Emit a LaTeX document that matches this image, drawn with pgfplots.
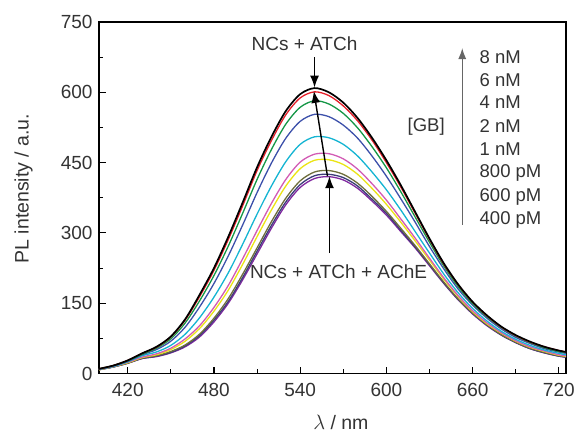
\documentclass[border=0pt]{standalone}
\usepackage{pgfplots}
\pgfplotsset{compat=1.18}
\usetikzlibrary{arrows.meta}
\usepackage{fontspec}
\setmainfont{Liberation Sans}
\definecolor{cred}{RGB}{230,30,40}
\definecolor{cgreen}{RGB}{20,150,70}
\definecolor{cblue}{RGB}{60,80,170}
\definecolor{ccyan}{RGB}{20,180,210}
\definecolor{cmag}{RGB}{210,90,180}
\definecolor{cyel}{RGB}{235,228,20}
\definecolor{colive}{RGB}{110,110,60}
\definecolor{cnavy}{RGB}{60,60,120}
\definecolor{cpurp}{RGB}{128,40,160}
\tikzset{lab/.style={font=\fontsize{18.5}{22}\selectfont, text=black!80, anchor=west, inner sep=0pt},
  arr/.style={-{Latex[length=12pt,width=9pt]}, line width=1.4pt}}
\begin{document}
\begin{tikzpicture}
\begin{axis}[
  scale only axis, width=467pt, height=351.5pt,
  at={(0,0)}, anchor=south west,
  xmin=400, xmax=725, ymin=0, ymax=750,
  xtick={420,480,...,720}, ytick={0,150,...,750},
  minor x tick num=1, minor y tick num=1,
  xtick pos=bottom, ytick pos=left, tick align=inside,
  major tick length=7pt, minor tick length=4.5pt,
  axis line style={line width=1.3pt},
  every tick/.style={line width=1.1pt, black},
  every minor tick/.style={line width=1.1pt, black},
  /pgf/number format/assume math mode=true,
  tick label style={font=\fontsize{19}{22}\selectfont, text=black!80},
  xticklabel style={yshift=-6pt},
  yticklabel style={xshift=-3pt},
  xlabel={$\lambda$ / nm}, ylabel={PL intensity / a.u.},
  label style={font=\fontsize{19.5}{23}\selectfont, text=black!80},
  xlabel style={at={(axis description cs:0.518,-0.14)}, anchor=center},
  ylabel style={at={(axis description cs:-0.1617,0.526)}, anchor=center},
  clip=false,
  every axis plot/.append style={line width=1.3pt, smooth, tension=0.5, no marks},
]
% purple (NCs + ATCh + AChE)
\addplot[cpurp] coordinates {(400,8)(410,14)(420,22)(430,32)(440,36)(450,44)(460,57)(470,78)(480,110)(490,150)(500,200)(510,255)(520,310)(530,360)(540,397)(550,416)(560,420)(570,413)(580,395)(590,368)(600,338)(610,303)(620,268)(630,230)(640,192)(650,157)(660,127)(670,102)(680,82)(690,66)(700,53)(710,44)(720,37)(725,35)};
% navy 400 pM
\addplot[cnavy] coordinates {(400,8)(410,14)(420,22)(430,32)(440,37)(450,45)(460,59)(470,81)(480,114)(490,154)(500,205)(510,261)(520,316)(530,366)(540,403)(550,422)(560,425)(570,418)(580,400)(590,372)(600,342)(610,306)(620,270)(630,232)(640,193)(650,158)(660,128)(670,103)(680,82)(690,66)(700,53)(710,44)(720,37)(725,35)};
% olive 600 pM
\addplot[colive] coordinates {(400,8)(410,14)(420,22)(430,33)(440,38)(450,47)(460,61)(470,84)(480,118)(490,160)(500,212)(510,268)(520,324)(530,374)(540,411)(550,430)(560,433)(570,425)(580,406)(590,378)(600,346)(610,310)(620,273)(630,234)(640,195)(650,159)(660,129)(670,104)(680,83)(690,67)(700,54)(710,45)(720,38)(725,36)};
% yellow 800 pM
\addplot[cyel] coordinates {(400,8)(410,15)(420,23)(430,34)(440,40)(450,51)(460,69)(470,96)(480,133)(490,178)(500,233)(510,292)(520,349)(530,400)(540,437)(550,455)(560,456)(570,446)(580,425)(590,395)(600,361)(610,323)(620,283)(630,242)(640,201)(650,164)(660,132)(670,106)(680,86)(690,69)(700,56)(710,47)(720,39)(725,37)};
% magenta 1 nM
\addplot[cmag] coordinates {(400,9)(410,15)(420,24)(430,35)(440,42)(450,54)(460,74)(470,102)(480,141)(490,188)(500,245)(510,305)(520,363)(530,414)(540,451)(550,468)(560,469)(570,458)(580,436)(590,405)(600,370)(610,330)(620,289)(630,246)(640,204)(650,166)(660,134)(670,108)(680,87)(690,70)(700,57)(710,48)(720,40)(725,38)};
% cyan 2 nM
\addplot[ccyan] coordinates {(400,9)(410,15)(420,25)(430,38)(440,46)(450,60)(460,84)(470,119)(480,163)(490,215)(500,276)(510,340)(520,400)(530,452)(540,489)(550,505)(560,503)(570,489)(580,464)(590,430)(600,392)(610,349)(620,303)(630,257)(640,212)(650,172)(660,139)(670,112)(680,90)(690,73)(700,60)(710,50)(720,43)(725,40)};
% blue 4 nM
\addplot[cblue] coordinates {(400,9)(410,16)(420,26)(430,40)(440,51)(450,69)(460,99)(470,142)(480,192)(490,251)(500,317)(510,386)(520,449)(530,502)(540,538)(550,553)(560,548)(570,530)(580,502)(590,464)(600,421)(610,373)(620,323)(630,271)(640,223)(650,180)(660,146)(670,118)(680,95)(690,77)(700,64)(710,53)(720,46)(725,43)};
% green 6 nM
\addplot[cgreen] coordinates {(400,10)(410,17)(420,27)(430,41)(440,54)(450,74)(460,108)(470,155)(480,209)(490,272)(500,342)(510,414)(520,478)(530,532)(540,568)(550,582)(560,575)(570,555)(580,524)(590,484)(600,439)(610,388)(620,334)(630,280)(640,229)(650,185)(660,149)(670,121)(680,98)(690,80)(700,66)(710,55)(720,47)(725,45)};
% red 8 nM
\addplot[cred] coordinates {(400,10)(410,17)(420,28)(430,43)(440,56)(450,78)(460,114)(470,164)(480,220)(490,286)(500,358)(510,433)(520,497)(530,552)(540,588)(550,601)(560,593)(570,571)(580,539)(590,498)(600,450)(610,398)(620,342)(630,286)(640,233)(650,189)(660,152)(670,123)(680,99)(690,81)(700,67)(710,57)(720,49)(725,46)};
% black NCs + ATCh
\addplot[black, line width=1.7pt] coordinates {(400,10)(410,17)(420,28)(430,43)(440,57)(450,79)(460,116)(470,168)(480,225)(490,292)(500,365)(510,440)(520,505)(530,560)(540,596)(550,609)(560,600)(570,578)(580,545)(590,503)(600,455)(610,402)(620,345)(630,288)(640,235)(650,190)(660,153)(670,124)(680,100)(690,82)(700,68)(710,57)(720,49)(725,46)};
% annotations
\draw[arr] (axis cs:550,675) -- (axis cs:550,610);
\node[font=\fontsize{19}{23}\selectfont, text=black!80] at (axis cs:543,703) {NCs + ATCh};
\draw[arr] (axis cs:560.4,257) -- (axis cs:560.4,421);
\draw[arr] (axis cs:559,421) -- (axis cs:549.5,603);
\node[font=\fontsize{19}{23}\selectfont, text=black!80] at (axis cs:566.7,216.6) {NCs + ATCh + AChE};
\draw[-{Latex[length=11pt,width=8pt]}, line width=1.3pt, black!60] (axis cs:652.8,317) -- (axis cs:652.8,694.5);
\node[font=\fontsize{18.5}{22}\selectfont, text=black!80] at (axis cs:627.7,526.5) {[GB]};
\node[lab] at (axis cs:664.8,676) {8 nM};
\node[lab] at (axis cs:664.8,626) {6 nM};
\node[lab] at (axis cs:664.8,578) {4 nM};
\node[lab] at (axis cs:664.8,528) {2 nM};
\node[lab] at (axis cs:664.8,478) {1 nM};
\node[lab] at (axis cs:664.8,427) {800 pM};
\node[lab] at (axis cs:664.8,377) {600 pM};
\node[lab] at (axis cs:664.8,327.5) {400 pM};
\end{axis}
\pgfresetboundingbox
\path[use as bounding box] (-99pt,-60.5pt) rectangle (477pt,373.5pt);
\end{tikzpicture}
\end{document}
